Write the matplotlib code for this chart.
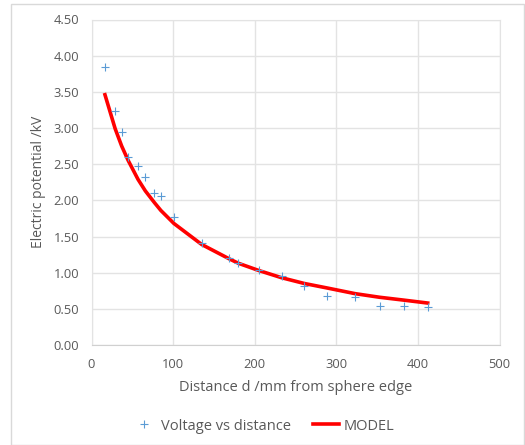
import matplotlib.pyplot as plt
from matplotlib.patches import Rectangle

distance = [16.5, 29, 37, 45, 57, 66, 77, 85, 101, 135, 169, 180, 205, 233, 261, 288, 323, 353, 383, 412]
voltage = [3.84, 3.24, 2.95, 2.60, 2.48, 2.32, 2.10, 2.06, 1.77, 1.41, 1.20, 1.14, 1.04, 0.95, 0.82, 0.68, 0.67, 0.54, 0.54, 0.52]
# model curve values at the same distances
model = [3.46, 2.99, 2.75, 2.55, 2.29, 2.13, 1.97, 1.86, 1.68, 1.39, 1.19, 1.13, 1.03, 0.93, 0.85, 0.79, 0.71, 0.66, 0.62, 0.58]

x_ticks = [0, 100, 200, 300, 400, 500]
y_ticks = [0.0, 0.5, 1.0, 1.5, 2.0, 2.5, 3.0, 3.5, 4.0, 4.5]

W, H = 525, 445
fig = plt.figure(figsize=(W / 100, H / 100), dpi=100)
plt.rcParams['font.family'] = ['Open Sans', 'DejaVu Sans']
txt = '#595959'

# chart area border
fig.add_artist(Rectangle((11 / W, 0), (524 - 11) / W, 1 - 4 / H, transform=fig.transFigure,
                         fill=False, edgecolor='#d9d9d9', lw=1))

ax = fig.add_axes([91.5 / W, 1 - 345 / H, (499.5 - 91.5) / W, (345 - 19.5) / H])

ax.plot(distance, model, color='#ff0000', lw=2.6, label='MODEL', zorder=3)
ax.plot(distance, voltage, ls='none', marker='+', ms=5.5, mew=0.8, color='#5b9bd5',
        label='Voltage vs distance', zorder=4)

ax.set_xlim(0, 500)
ax.set_ylim(0, 4.5)
ax.set_xticks(x_ticks)
ax.set_yticks(y_ticks)
ax.set_yticklabels(['%.2f' % v for v in y_ticks])
ax.grid(True, color='#e3e3e3', lw=1)
ax.set_axisbelow(True)
for s in ax.spines.values():
    s.set_color('#e3e3e3')
ax.spines['bottom'].set_color('#d0d0d0')
ax.tick_params(length=0, labelsize=9.3, colors=txt, pad=9)

ax.set_xlabel('Distance d /mm from sphere edge', fontsize=10.5, color=txt, labelpad=7)
ax.set_ylabel('Electric potential /kV', fontsize=10, color=txt, labelpad=5)

h, l = ax.get_legend_handles_labels()
fig.legend(h[::-1], l[::-1], loc='center', bbox_to_anchor=(0.5, 1 - 426 / H), ncol=2,
           frameon=False, fontsize=10.5, labelcolor=txt, handlelength=1.8,
           handletextpad=0.3, columnspacing=1.5)

fig.savefig('out.png', dpi=100)
